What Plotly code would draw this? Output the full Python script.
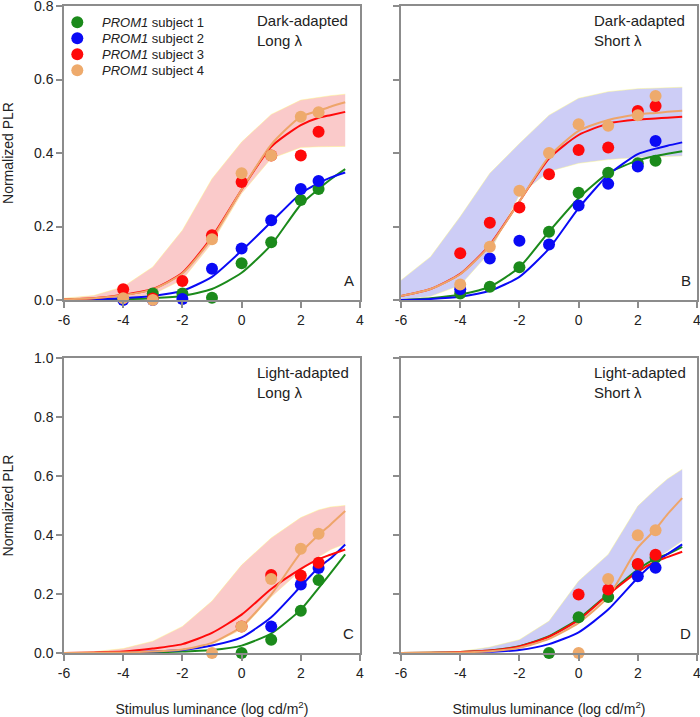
import plotly.graph_objects as go
from plotly.subplots import make_subplots

# data, x = log stimulus luminance
pts_x = [-4, -3, -2, -1, 0, 1, 2, 2.6]
fit_x = [-6, -5, -4, -3, -2, -1, 0, 1, 2, 2.6, 3, 3.5]
x_ticks = [-6, -4, -2, 0, 2, 4]
x_ticktext = ["-6", "-4", "-2", "0", "2", "4"]

names = ["PROM1 subject 1", "PROM1 subject 2", "PROM1 subject 3", "PROM1 subject 4"]
colors = ["#1b8a1b", "#0a0af5", "#ff0a0a", "#eeaa6c"]
line_colors = ["#1b8a1b", "#0a0af5", "#ff0a0a", "#eea56a"]

# panel A : dark-adapted, long wavelength
A_pts = [
    [0.003, 0.018, 0.018, 0.006, 0.100, 0.157, 0.272, 0.302],
    [0.000, 0.000, 0.003, 0.085, 0.140, 0.217, 0.302, 0.324],
    [0.029, 0.004, 0.052, 0.176, 0.321, 0.393, 0.393, 0.458],
    [0.005, 0.000, None, 0.165, 0.345, 0.393, 0.499, 0.511],
]
A_fit = [
    [0.0, 0.001, 0.002, 0.005, 0.011, 0.030, 0.074, 0.150, 0.260, 0.302, 0.328, 0.356],
    [0.0, 0.002, 0.005, 0.011, 0.025, 0.063, 0.134, 0.212, 0.290, 0.318, 0.333, 0.347],
    [0.002, 0.005, 0.014, 0.030, 0.074, 0.172, 0.300, 0.417, 0.476, 0.496, 0.503, 0.512],
    [0.002, 0.005, 0.013, 0.029, 0.072, 0.168, 0.300, 0.423, 0.499, 0.515, 0.526, 0.538],
]
A_hi = [0.005, 0.012, 0.036, 0.090, 0.190, 0.330, 0.430, 0.505, 0.544, 0.552, 0.556, 0.560]
A_lo = [0.000, 0.002, 0.005, 0.015, 0.055, 0.155, 0.290, 0.385, 0.415, 0.417, 0.418, 0.418]

# panel B : dark-adapted, short wavelength
B_pts = [
    [0.018, 0.036, 0.089, 0.186, 0.292, 0.346, 0.372, 0.379],
    [0.029, 0.113, 0.161, 0.151, 0.257, 0.316, 0.363, 0.433],
    [0.127, 0.210, 0.252, 0.342, 0.408, 0.415, 0.514, 0.528],
    [0.042, 0.145, 0.297, 0.400, 0.478, 0.474, 0.503, 0.555],
]
B_fit = [
    [0.0, 0.005, 0.015, 0.036, 0.089, 0.186, 0.277, 0.345, 0.380, 0.392, 0.398, 0.405],
    [0.0, 0.003, 0.009, 0.025, 0.063, 0.140, 0.250, 0.340, 0.397, 0.412, 0.420, 0.429],
    [0.011, 0.030, 0.071, 0.150, 0.268, 0.385, 0.449, 0.480, 0.491, 0.494, 0.496, 0.499],
    [0.011, 0.030, 0.070, 0.148, 0.268, 0.390, 0.460, 0.490, 0.505, 0.509, 0.512, 0.515],
]
B_hi = [0.054, 0.118, 0.227, 0.345, 0.426, 0.503, 0.549, 0.567, 0.575, 0.577, 0.578, 0.579]
B_lo = [0.000, 0.010, 0.040, 0.130, 0.286, 0.350, 0.372, 0.382, 0.388, 0.390, 0.391, 0.392]

# panel C : light-adapted, long wavelength
C_pts = [
    [None, None, None, None, 0.000, 0.045, 0.143, 0.247],
    [None, None, None, None, None, 0.090, 0.232, 0.288],
    [None, None, None, None, 0.090, 0.264, 0.263, 0.306],
    [None, None, None, 0.000, 0.090, 0.251, 0.353, 0.404],
]
C_fit = [
    [0.0, 0.0, 0.001, 0.002, 0.005, 0.010, 0.025, 0.066, 0.147, 0.220, 0.270, 0.334],
    [0.0, 0.0, 0.002, 0.005, 0.010, 0.025, 0.053, 0.121, 0.226, 0.290, 0.320, 0.368],
    [0.0, 0.002, 0.005, 0.015, 0.030, 0.068, 0.130, 0.217, 0.285, 0.318, 0.333, 0.351],
    [0.0, 0.001, 0.002, 0.005, 0.012, 0.034, 0.090, 0.198, 0.340, 0.400, 0.435, 0.481],
]
C_hi = [0.000, 0.004, 0.015, 0.040, 0.090, 0.176, 0.298, 0.390, 0.459, 0.485, 0.495, 0.500]
C_lo = [0.000, 0.000, 0.002, 0.005, 0.012, 0.030, 0.080, 0.190, 0.280, 0.325, 0.350, 0.370]

# panel D : light-adapted, short wavelength
D_pts = [
    [None, None, None, 0.000, 0.121, 0.190, 0.300, 0.323],
    [None, None, None, None, None, None, 0.260, 0.289],
    [None, None, None, None, 0.198, 0.215, 0.302, 0.333],
    [None, None, None, None, 0.000, 0.251, 0.399, 0.416],
]
D_fit = [
    [0.0, 0.001, 0.003, 0.008, 0.023, 0.057, 0.116, 0.200, 0.283, 0.320, 0.335, 0.360],
    [0.0, 0.0, 0.001, 0.004, 0.010, 0.030, 0.070, 0.147, 0.255, 0.310, 0.335, 0.368],
    [0.0, 0.001, 0.003, 0.008, 0.022, 0.055, 0.112, 0.198, 0.275, 0.310, 0.325, 0.343],
    [0.0, 0.001, 0.002, 0.006, 0.018, 0.048, 0.102, 0.190, 0.357, 0.420, 0.470, 0.525],
]
D_hi = [0.000, 0.002, 0.005, 0.020, 0.045, 0.108, 0.244, 0.334, 0.498, 0.555, 0.590, 0.623]
D_lo = [0.000, 0.000, 0.002, 0.006, 0.018, 0.050, 0.100, 0.195, 0.280, 0.320, 0.345, 0.380]

pink = "rgba(250,198,198,0.92)"
lav = "rgba(202,202,246,0.95)"
panels = [
    (1, 1, A_pts, A_fit, A_hi, A_lo, pink, "Dark-adapted<br>Long λ", "A"),
    (1, 2, B_pts, B_fit, B_hi, B_lo, lav, "Dark-adapted<br>Short λ", "B"),
    (2, 1, C_pts, C_fit, C_hi, C_lo, pink, "Light-adapted<br>Long λ", "C"),
    (2, 2, D_pts, D_fit, D_hi, D_lo, lav, "Light-adapted<br>Short λ", "D"),
]

fig = make_subplots(rows=2, cols=2)
font = "Liberation Sans, Arial, sans-serif"
edge = dict(color="rgba(255,250,120,0.7)", width=0.6)

for k, (r, c, pts, fit, hi, lo, band, label, letter) in enumerate(panels):
    # normal range band
    fig.add_trace(go.Scatter(x=fit_x, y=lo, mode="lines", line=edge,
                             showlegend=False, hoverinfo="skip"), row=r, col=c)
    fig.add_trace(go.Scatter(x=fit_x, y=hi, mode="lines", fill="tonexty", fillcolor=band,
                             line=edge, showlegend=False, hoverinfo="skip"), row=r, col=c)
    for i in range(4):
        fig.add_trace(go.Scatter(x=fit_x, y=fit[i], mode="lines",
                                 line=dict(color=line_colors[i], width=2, shape="spline", smoothing=0.6),
                                 showlegend=False, hoverinfo="skip", cliponaxis=False), row=r, col=c)
    for i in range(4):
        fig.add_trace(go.Scatter(x=pts_x, y=pts[i], mode="markers", name=names[i],
                                 marker=dict(color=colors[i], size=12),
                                 showlegend=False, cliponaxis=False), row=r, col=c)

xd = [[0.0914, 0.5143], [0.5729, 0.9957]]
yd = [[0.5816, 0.9916], [0.0893, 0.5007]]

axis_style = dict(showline=True, linecolor="#8c8c8c", linewidth=1.5, mirror=True,
                  ticks="outside", ticklen=6, tickcolor="#8c8c8c", tickwidth=1.5,
                  showgrid=False, zeroline=False, automargin=False, ticklabeloverflow="allow",
                  tickfont=dict(family=font, size=14, color="#222"))

for r in (1, 2):
    for c in (1, 2):
        fig.update_xaxes(axis_style, range=[-6, 4], tickvals=x_ticks, ticktext=x_ticktext,
                         domain=xd[c - 1], row=r, col=c)
        fig.update_yaxes(axis_style, range=[0, 0.8] if r == 1 else [0, 1.0], dtick=0.2, tickformat=".1f",
                         domain=yd[r - 1], showticklabels=(c == 1), row=r, col=c)

title_font = dict(family=font, size=14, color="#222")
for r in (1, 2):
    fig.update_yaxes(title=dict(text="Normalized PLR", font=title_font, standoff=20), row=r, col=1)
for c in (1, 2):
    fig.update_xaxes(title=dict(text="Stimulus luminance (log cd/m<sup>2</sup>)", font=title_font, standoff=26),
                     row=2, col=c)

anns = []
for k, (r, c, *_rest, label, letter) in enumerate(panels):
    ax = "" if k == 0 else str(k + 1)
    anns.append(dict(text=label, xref=f"x{ax} domain", yref=f"y{ax} domain", x=0.645, y=0.985,
                     xanchor="left", yanchor="top", align="left", showarrow=False,
                     font=dict(family=font, size=15, color="#222")))
    anns.append(dict(text=letter, xref=f"x{ax} domain", yref=f"y{ax} domain", x=0.985, y=0.03,
                     xanchor="right", yanchor="bottom", showarrow=False,
                     font=dict(family=font, size=15, color="#222")))

# hand-made legend inside panel A (rows are tighter than plotly's legend allows)
shapes = []
for i in range(4):
    yy = 0.945 - i * 0.0545
    shapes.append(dict(type="circle", xref="x domain", yref="y domain", xsizemode="pixel", ysizemode="pixel",
                       xanchor=0.045, yanchor=yy, x0=-6, x1=6, y0=-6, y1=6,
                       fillcolor=colors[i], line=dict(width=0)))
    anns.append(dict(text="<i>PROM1</i> subject %d" % (i + 1), xref="x domain", yref="y domain",
                     x=0.12, y=yy, xanchor="left", yanchor="middle", showarrow=False,
                     font=dict(family=font, size=13, color="#222")))

fig.update_layout(
    width=700, height=717,
    margin=dict(l=0, r=0, t=0, b=0, autoexpand=False),
    paper_bgcolor="white", plot_bgcolor="white",
    annotations=anns, shapes=shapes,
    showlegend=False,
)

fig.write_html("out.html", config={"displayModeBar": False},
               post_script="document.body.style.margin='0';")
